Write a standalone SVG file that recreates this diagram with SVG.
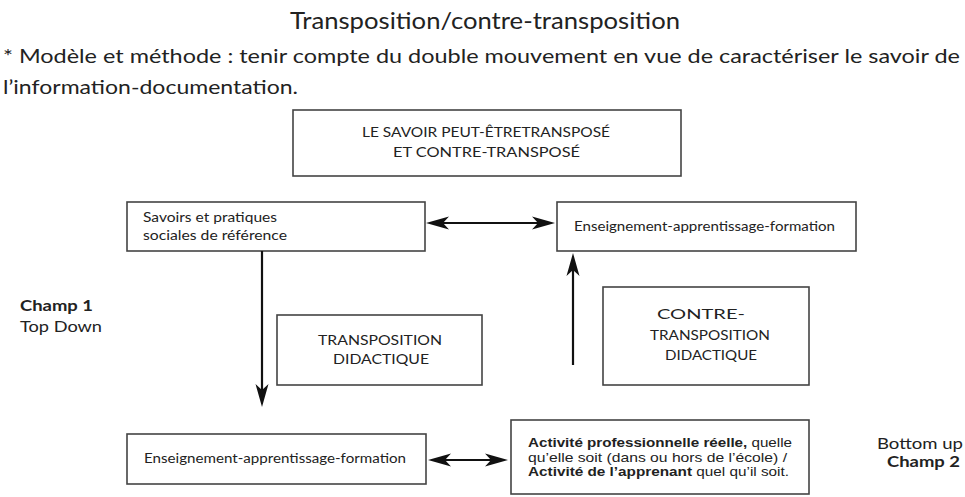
<svg xmlns="http://www.w3.org/2000/svg" width="965" height="497" viewBox="0 0 965 497">
<defs>
<style>
text{font-family:Lato,"Open Sans","Liberation Sans",sans-serif;fill:#222}
.box{fill:#fff;stroke:#444;stroke-width:1.6}
.conn{stroke:#111;stroke-width:2.2;fill:none}
.t13{font-size:13.5px}
.cap{font-size:14px}
.mid{text-anchor:middle}
.b{font-weight:bold}
.act{font-family:"Liberation Sans",Arial,sans-serif;font-size:12.7px}
</style>
<marker id="ah" viewBox="-24 -7 25 14" refX="-12" refY="0" markerWidth="25" markerHeight="14" markerUnits="userSpaceOnUse" orient="auto-start-reverse">
<path d="M0,0 L-23,-6.5 L-17,0 L-23,6.5 Z" fill="#111"/>
</marker>
</defs>
<rect width="965" height="497" fill="#fff"/>
<g id="title">
<text x="290" y="29" font-size="24" textLength="390" lengthAdjust="spacingAndGlyphs">Transposition/contre-transposition</text>
<text x="3" y="63" font-size="20" textLength="957" lengthAdjust="spacingAndGlyphs">* Modèle et méthode : tenir compte du double mouvement en vue de caractériser le savoir de</text>
<text x="3" y="94" font-size="20" textLength="295" lengthAdjust="spacingAndGlyphs">l’information-documentation.</text>
</g>
<g id="node-savoir">
<rect class="box" x="293" y="110" width="388" height="66"/>
<text class="cap mid" x="486" y="137" textLength="248" lengthAdjust="spacingAndGlyphs">LE SAVOIR PEUT-ÊTRETRANSPOSÉ</text>
<text class="cap mid" x="486.5" y="157" textLength="187" lengthAdjust="spacingAndGlyphs">ET CONTRE-TRANSPOSÉ</text>
</g>
<g id="node-savoirs-pratiques">
<rect class="box" x="127" y="202" width="298" height="49"/>
<text class="t13" x="143" y="222" textLength="134" lengthAdjust="spacingAndGlyphs">Savoirs et pratiques</text>
<text class="t13" x="143" y="240" textLength="144" lengthAdjust="spacingAndGlyphs">sociales de référence</text>
</g>
<g id="node-ens-top">
<rect class="box" x="557" y="202" width="299" height="49"/>
<text class="t13" x="574" y="231" textLength="261" lengthAdjust="spacingAndGlyphs">Enseignement-apprentissage-formation</text>
</g>
<g id="node-transposition">
<rect class="box" x="277" y="315" width="205" height="70"/>
<text class="cap mid" x="380" y="345" textLength="124" lengthAdjust="spacingAndGlyphs">TRANSPOSITION</text>
<text class="cap mid" x="381" y="364" textLength="96" lengthAdjust="spacingAndGlyphs">DIDACTIQUE</text>
</g>
<g id="node-contre">
<rect class="box" x="603" y="287" width="206" height="98"/>
<text class="cap mid" x="701" y="319" textLength="88" lengthAdjust="spacingAndGlyphs">CONTRE-</text>
<text class="cap mid" x="710" y="340" textLength="120" lengthAdjust="spacingAndGlyphs">TRANSPOSITION</text>
<text class="cap mid" x="711" y="360" textLength="92" lengthAdjust="spacingAndGlyphs">DIDACTIQUE</text>
</g>
<g id="node-ens-bottom">
<rect class="box" x="127" y="434" width="299" height="50"/>
<text class="t13" x="144" y="463" textLength="262" lengthAdjust="spacingAndGlyphs">Enseignement-apprentissage-formation</text>
</g>
<g id="node-activite">
<rect class="box" x="511" y="420" width="298" height="74"/>
<text class="act" x="528" y="447" textLength="264" lengthAdjust="spacingAndGlyphs"><tspan class="b">Activité professionnelle réelle,</tspan> quelle</text>
<text class="act" x="528" y="461.5" textLength="259" lengthAdjust="spacingAndGlyphs">qu’elle soit (dans ou hors de l’école) /</text>
<text class="act" x="528" y="476" textLength="261" lengthAdjust="spacingAndGlyphs"><tspan class="b">Activité de l’apprenant</tspan> quel qu’il soit.</text>
</g>
<g id="label-champ1">
<text x="20" y="311" font-size="16" class="b" textLength="73" lengthAdjust="spacingAndGlyphs">Champ 1</text>
<text x="20" y="332" font-size="16" textLength="82" lengthAdjust="spacingAndGlyphs">Top Down</text>
</g>
<g id="label-champ2">
<text x="877" y="449" font-size="16" textLength="86" lengthAdjust="spacingAndGlyphs">Bottom up</text>
<text x="887" y="467" font-size="16" class="b" textLength="73" lengthAdjust="spacingAndGlyphs">Champ 2</text>
</g>
<g id="connectors">
<line class="conn" x1="438" y1="223" x2="543" y2="223" marker-start="url(#ah)" marker-end="url(#ah)"/>
<line class="conn" x1="262" y1="251" x2="262" y2="395" marker-end="url(#ah)"/>
<line class="conn" x1="573" y1="365" x2="573" y2="265" marker-end="url(#ah)"/>
<line class="conn" x1="440" y1="460" x2="496" y2="460" marker-start="url(#ah)" marker-end="url(#ah)"/>
</g>
</svg>
